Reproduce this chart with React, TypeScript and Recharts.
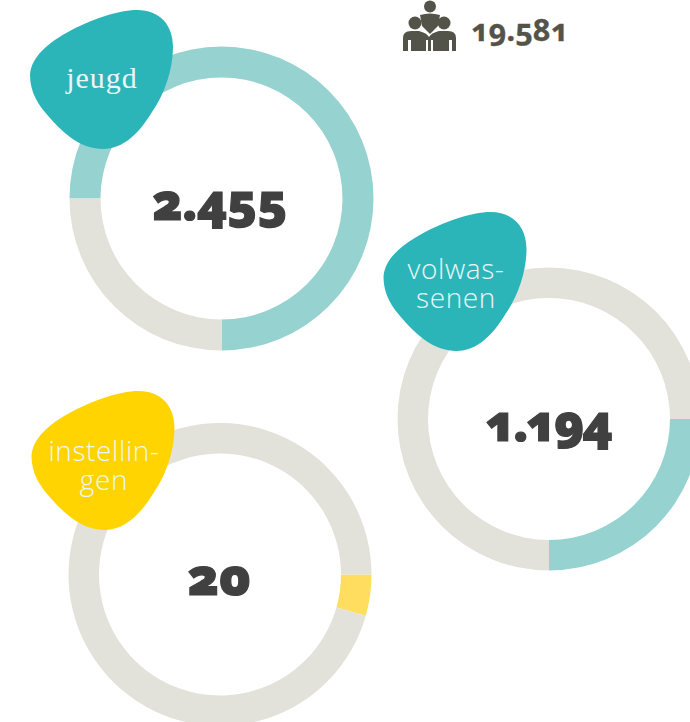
import React from "react";
import { PieChart, Pie, Cell } from "recharts";

const segmentNames = ["deel", "rest"];
const jeugdShare = [75, 25];
const volwassenenShare = [25, 75];
const instellingenShare = [4.4, 95.6];
const totalLabel = "19.581";
const centerLabels = ["2.455", "1.194", "20"];
const blobLabels = [["jeugd"], ["volwas-", "senen"], ["instellin-", "gen"]];

const TEAL = "#2BB5B9";
const YELLOW = "#FFD400";
const LIGHT_TEAL = "#95D2D0";
const LIGHT_YELLOW = "#FFDD5F";
const GREY = "#E2E2DA";
const DARK = "#404040";
const ICON = "#54534A";

const toRows = (values: number[]) => values.map((value, i) => ({ name: segmentNames[i], value }));

const BLOB =
  "M30 75 C31 57 48 43 68 32 C90 20 118 10 137 10 C160 10 173 25 173 47 C173 70 164 95 152 112 C140 132 124 149 103 149 C82 149 65 135 50 118 C38 105 30 92 30 75 Z";

const numberStyle: React.CSSProperties = {
  fontFamily: "'Noto Sans', Lato, sans-serif",
  fontWeight: 900,
  fontFeatureSettings: '"onum" 1',
  strokeWidth: 1.2,
  paintOrder: "stroke",
};
const blobTextStyle: React.CSSProperties = {
  fontFamily: "'Open Sans', sans-serif",
  fontWeight: 300,
  fill: "#EAF7F6",
  letterSpacing: 0.6,
};

function Blob({ dx, dy, fill, lines, cx, ys, font }: { dx: number; dy: number; fill: string; lines: string[]; cx: number; ys: number[]; font?: string }) {
  return (
    <g>
      <path d={BLOB} fill={fill} transform={`translate(${dx} ${dy})`} />
      {lines.map((t, i) => (
        <text key={t} x={cx} y={ys[i]} textAnchor="middle" fontSize={font ? 30 : 28} style={{ ...blobTextStyle, ...(font ? { fontFamily: font, fontWeight: 400, letterSpacing: 1 } : {}) }}>
          {t}
        </text>
      ))}
    </g>
  );
}

function PeopleIcon() {
  return (
    <g fill={ICON}>
      <circle cx={430} cy={6.5} r={6} />
      <path d="M420 15 Q430 12 440 15 L438 26 L430 34 L422 26 Z" />
      <circle cx={415} cy={23} r={6.5} />
      <circle cx={444} cy={23} r={6.5} />
      <path d="M403 51 L403 38 Q403 31 411 31 L419 31 Q427 33 429 37 Q431 33 439 31 L448 31 Q456 31 456 38 L456 51 L452 51 L452 40 L449 40 L449 51 L433 51 L433 40 L431 40 L431 51 L428 51 L428 40 L426 40 L426 51 L411 51 L411 40 L408 40 L408 51 Z" />
    </g>
  );
}

export default function App() {
  const ring = { innerRadius: 121, outerRadius: 151.5, stroke: "none", dataKey: "value", isAnimationActive: false, paddingAngle: 0 };
  return (
    <div style={{ position: "absolute", left: 0, top: 0, width: 690, height: 722, overflow: "hidden", background: "#fff" }}>
      <div style={{ position: "absolute", left: 0, top: 0 }}>
        <PieChart width={690} height={722} margin={{ top: 0, right: 0, bottom: 0, left: 0 }}>
          <Pie {...ring} outerRadius={152} innerRadius={121} data={toRows(jeugdShare)} cx={221.5} cy={198.5} startAngle={180} endAngle={-180}>
            <Cell fill={LIGHT_TEAL} />
            <Cell fill={GREY} />
          </Pie>
          <Pie {...ring} data={toRows(volwassenenShare)} cx={549} cy={419} startAngle={0} endAngle={-360}>
            <Cell fill={LIGHT_TEAL} />
            <Cell fill={GREY} />
          </Pie>
          <Pie {...ring} data={toRows(instellingenShare)} cx={220} cy={574.5} startAngle={0} endAngle={-360}>
            <Cell fill={LIGHT_YELLOW} />
            <Cell fill={GREY} />
          </Pie>
        </PieChart>
      </div>
      <svg width={690} height={722} style={{ position: "absolute", left: 0, top: 0 }}>
        <Blob dx={0} dy={0} fill={TEAL} lines={blobLabels[0]} cx={102} ys={[88]} font="'Liberation Serif', serif" />
        <Blob dx={353.5} dy={202} fill={TEAL} lines={blobLabels[1]} cx={456} ys={[279, 308]} />
        <Blob dx={1.5} dy={381} fill={YELLOW} lines={blobLabels[2]} cx={104} ys={[461, 490]} />
        <PeopleIcon />
        <text x={471} y={41} fontSize={30.5} fill={ICON} stroke={ICON} style={{ ...numberStyle, fontWeight: 700, strokeWidth: 0.3 }}>
          {totalLabel}
        </text>
        <text x={220} y={220} textAnchor="middle" fontSize={50} fill={DARK} stroke={DARK} style={numberStyle}>
          {centerLabels[0]}
        </text>
        <text x={548} y={441} textAnchor="middle" fontSize={50} fill={DARK} stroke={DARK} style={{ ...numberStyle, letterSpacing: -2 }}>
          {centerLabels[1]}
        </text>
        <text x={219} y={595} textAnchor="middle" fontSize={52} fill={DARK} stroke={DARK} style={numberStyle}>
          {centerLabels[2]}
        </text>
      </svg>
    </div>
  );
}
